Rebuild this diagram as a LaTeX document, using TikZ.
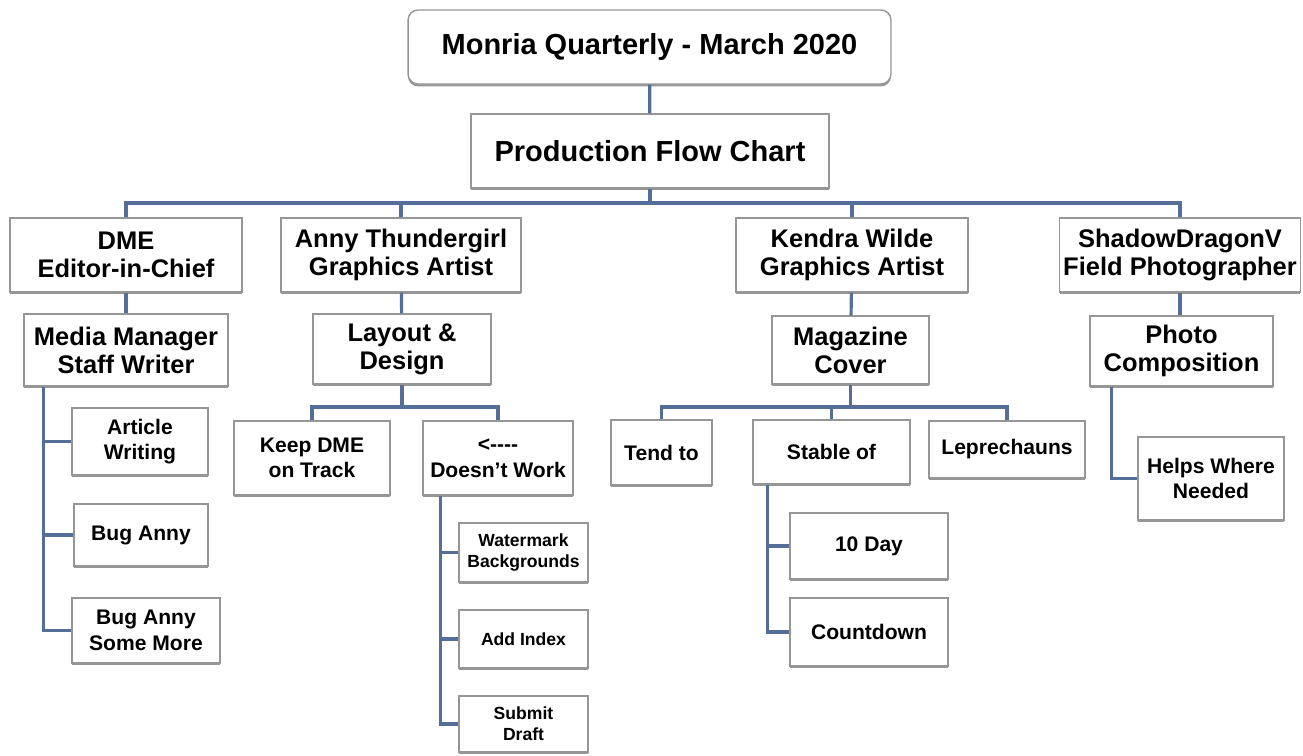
\documentclass[tikz,border=0pt]{standalone}
\usepackage{fontspec}
\setmainfont{Liberation Sans}
\usetikzlibrary{shadows}
\definecolor{linkblue}{RGB}{84,110,152}
\definecolor{boxgray}{RGB}{150,150,150}
\tikzset{
  box/.style={draw=boxgray, line width=0.8pt, fill=white, align=center, inner sep=2pt,
    drop shadow={shadow xshift=0pt, shadow yshift=-1.4pt, fill=boxgray, opacity=1}},
  link/.style={draw=linkblue, line width=1.8pt},
  txtbig/.style={font=\fontsize{16.5}{19}\selectfont\bfseries},
  txtmid/.style={font=\fontsize{14.5}{16}\selectfont\bfseries},
  txtsmall/.style={font=\fontsize{12}{14.6}\selectfont\bfseries},
  txttiny/.style={font=\fontsize{10}{12}\selectfont\bfseries},
}
\begin{document}
\begin{tikzpicture}[x=0.02cm, y=-0.02cm]
  \useasboundingbox (0,0) rectangle (1303,755);
  % head of the chart
  \node[box, txtbig, rounded corners=0.2cm, minimum width=9.66cm, minimum height=1.48cm] (title) at (649.5,47) {Monria Quarterly - March 2020};
  \node[box, txtbig, minimum width=7.16cm, minimum height=1.48cm] (flow) at (650,151) {Production Flow Chart};
  % staff row
  \node[box, txtmid, minimum width=4.64cm, minimum height=1.48cm] (dme) at (126,255) {DME\\Editor-in-Chief};
  \node[box, txtmid, minimum width=4.8cm, minimum height=1.48cm] (anny) at (401,255) {Anny Thundergirl\\Graphics Artist};
  \node[box, txtmid, minimum width=4.64cm, minimum height=1.48cm] (kendra) at (852,255) {Kendra Wilde\\Graphics Artist};
  \node[box, txtmid, minimum width=4.8cm, minimum height=1.48cm] (shadow) at (1180,255) {ShadowDragonV\\Field Photographer};
  % jobs
  \node[box, txtmid, minimum width=4.08cm, minimum height=1.44cm] (media) at (126,350) {Media Manager\\Staff Writer};
  \node[box, txtmid, minimum width=3.56cm, minimum height=1.4cm] (layout) at (402,349) {Layout \&\\Design};
  \node[box, txtmid, minimum width=3.14cm, minimum height=1.36cm] (cover) at (850.5,350) {Magazine\\Cover};
  \node[box, txtmid, minimum width=3.66cm, minimum height=1.4cm] (photo) at (1181.5,351) {Photo\\Composition};
  % tasks
  \node[box, txtsmall, minimum width=2.72cm, minimum height=1.34cm] (article) at (140,441.5) {Article\\Writing};
  \node[box, txtsmall, minimum width=2.68cm, minimum height=1.24cm] (buganny) at (141,535) {Bug Anny};
  \node[box, txtsmall, minimum width=2.96cm, minimum height=1.3cm] (bugmore) at (146,630.5) {Bug Anny\\Some More};
  \node[box, txtsmall, minimum width=3.12cm, minimum height=1.48cm] (keepdme) at (312,458) {Keep DME\\on Track};
  \node[box, txtsmall, minimum width=3.0cm, minimum height=1.48cm] (nowork) at (498,458) {<-{}-{}-{}-\\Doesn't Work};
  \node[box, txttiny, minimum width=2.58cm, minimum height=1.18cm] (watermark) at (523.5,552.5) {Watermark\\Backgrounds};
  \node[box, txttiny, minimum width=2.58cm, minimum height=1.16cm] (index) at (523.5,639) {Add Index};
  \node[box, txttiny, minimum width=2.58cm, minimum height=1.12cm] (submit) at (523.5,724) {Submit\\Draft};
  \node[box, txtsmall, minimum width=2.02cm, minimum height=1.3cm] (tendto) at (661.5,452.5) {Tend to};
  \node[box, txtsmall, minimum width=3.14cm, minimum height=1.28cm] (stable) at (831.5,452) {Stable of};
  \node[box, txtsmall, minimum width=3.12cm, minimum height=1.14cm] (lepre) at (1007,449.5) {Leprechauns};
  \node[box, txtsmall, minimum width=3.16cm, minimum height=1.32cm] (tenday) at (869,546) {10 Day};
  \node[box, txtsmall, minimum width=3.16cm, minimum height=1.36cm] (countdown) at (869,632) {Countdown};
  \node[box, txtsmall, minimum width=2.92cm, minimum height=1.66cm] (helps) at (1211,478.5) {Helps Where\\Needed};
  % bus points
  \coordinate (flowbus) at (650,203);
  \coordinate (layoutbus) at (402,407);
  \coordinate (coverbus) at (850.5,407);
  % links
  \draw[link] (title) -- (flow);
  \draw[link] (flow) -- (flowbus);
  \foreach \c in {dme,anny,kendra,shadow}
    \draw[link] (flowbus) -| (\c.north);
  \draw[link] (dme) -- (media);
  \draw[link] (anny) -- (layout);
  \draw[link] (kendra) -- (cover);
  \draw[link] (shadow.south) -- (shadow.south |- photo.north);
  \draw[link] (layout) -- (layoutbus);
  \foreach \c in {keepdme,nowork}
    \draw[link] (layoutbus) -| (\c.north);
  \draw[link] (cover) -- (coverbus);
  \foreach \c in {tendto,stable,lepre}
    \draw[link] (coverbus) -| (\c.north);
  \foreach \c in {article,buganny,bugmore}
    \draw[link] ([xshift=0.4cm]media.south west) |- (\c.west);
  \foreach \c in {watermark,index,submit}
    \draw[link] ([xshift=0.36cm]nowork.south west) |- (\c.west);
  \foreach \c in {tenday,countdown}
    \draw[link] ([xshift=0.3cm]stable.south west) |- (\c.west);
  \draw[link] ([xshift=0.44cm]photo.south west) |- (helps.west);
\end{tikzpicture}
\end{document}
